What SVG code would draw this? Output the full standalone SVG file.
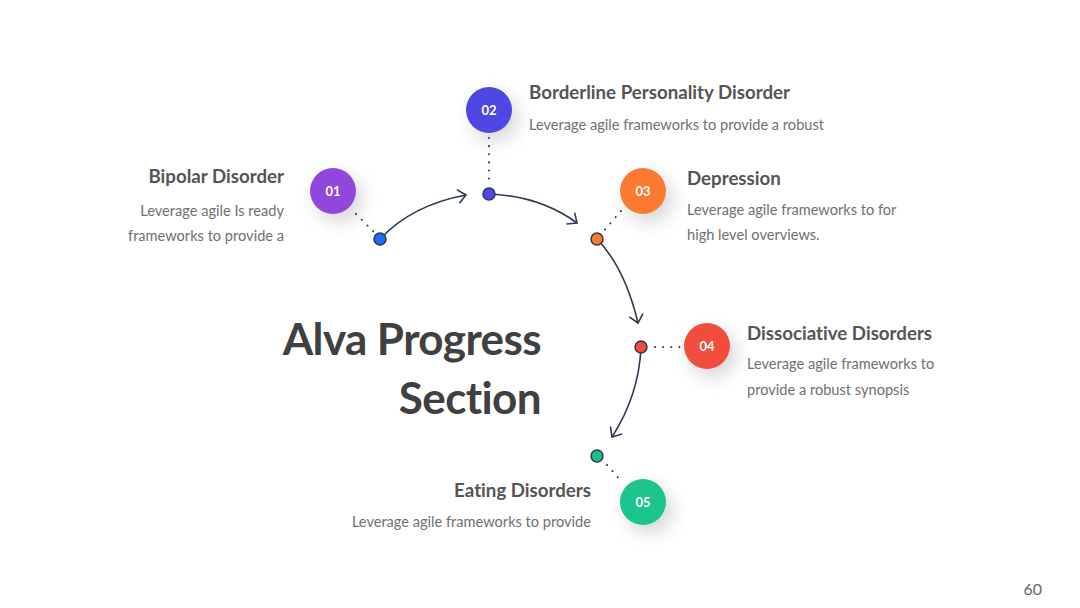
<svg xmlns="http://www.w3.org/2000/svg" width="1080" height="608" viewBox="0 0 1080 608">
<style>
text{font-variant-ligatures:none}
.h{font-family:Lato,"Open Sans","Liberation Sans",sans-serif;font-weight:700;font-size:18.7px;fill:#555555}
.s{font-family:Lato,"Open Sans","Liberation Sans",sans-serif;font-size:14.6px;fill:#707070}
.n{font-family:Lato,"Open Sans","Liberation Sans",sans-serif;font-weight:700;font-size:13px;fill:#ffffff}
.t{font-family:Lato,"Open Sans","Liberation Sans",sans-serif;font-weight:700;font-size:44px;fill:#404040;letter-spacing:-0.6px}
.dot{stroke:#2d3a55;stroke-width:1.5}
.dl{stroke:#2d3a55;stroke-width:2;stroke-linecap:round;stroke-dasharray:0.1 8;fill:none}
.cv{stroke:#2d3a55;stroke-width:1.6;fill:none}
</style>
<defs>
<filter id="sh" x="-80%" y="-80%" width="260%" height="260%">
<feDropShadow dx="6" dy="8" stdDeviation="9" flood-color="#000" flood-opacity="0.16"/>
</filter>
<marker id="ar" markerWidth="16" markerHeight="16" refX="10" refY="8" orient="auto" markerUnits="userSpaceOnUse">
<path d="M2,1 L10,8 L2,15" fill="none" stroke="#2d3a55" stroke-width="1.6"/>
</marker>
</defs>
<rect width="1080" height="608" fill="#ffffff"/>

<g id="connectors">
<path class="dl" d="M356,214 L376,234"/>
<path class="dl" d="M489,138 L489,186"/>
<path class="dl" d="M621,211 L602,233"/>
<path class="dl" d="M655,347 L680,347"/>
<path class="dl" d="M607,465 L622,482"/>
<path class="cv" d="M380,239 Q412,205 466,195" marker-end="url(#ar)"/>
<path class="cv" d="M489,194 Q540,196 577,223" marker-end="url(#ar)"/>
<path class="cv" d="M597,239 Q625,268 638,323" marker-end="url(#ar)"/>
<path class="cv" d="M641,347 Q639,395 612,437" marker-end="url(#ar)"/>
</g>

<text class="t" x="541" y="355" text-anchor="end">Alva Progress</text>
<text class="t" x="541" y="414" text-anchor="end">Section</text>

<g id="node1">
<circle cx="333" cy="191" r="23" fill="#9146dc" filter="url(#sh)"/>
<text class="n" x="333" y="195.5" text-anchor="middle">01</text>
<circle class="dot" cx="380" cy="239" r="6" fill="#1a6ef5"/>
<text class="h" x="284" y="183" text-anchor="end">Bipolar Disorder</text>
<text class="s" x="284" y="216" text-anchor="end">Leverage agile Is ready</text>
<text class="s" x="284" y="241" text-anchor="end">frameworks to provide a</text>
</g>

<g id="node2">
<circle cx="489" cy="110" r="23" fill="#5046e4" filter="url(#sh)"/>
<text class="n" x="489" y="114.5" text-anchor="middle">02</text>
<circle class="dot" cx="489" cy="194" r="6" fill="#5046e4"/>
<text class="h" x="529" y="99">Borderline Personality Disorder</text>
<text class="s" x="529" y="130">Leverage agile frameworks to provide a robust</text>
</g>

<g id="node3">
<circle cx="643" cy="191" r="23" fill="#fb7a30" filter="url(#sh)"/>
<text class="n" x="643" y="195.5" text-anchor="middle">03</text>
<circle class="dot" cx="597" cy="239" r="6" fill="#f47b30"/>
<text class="h" x="687" y="185">Depression</text>
<text class="s" x="687" y="215">Leverage agile frameworks to for</text>
<text class="s" x="687" y="240">high level overviews.</text>
</g>

<g id="node4">
<circle cx="707" cy="346" r="23" fill="#f04e3e" filter="url(#sh)"/>
<text class="n" x="707" y="350.5" text-anchor="middle">04</text>
<circle class="dot" cx="641" cy="347" r="6" fill="#ef4b3a"/>
<text class="h" x="747" y="340">Dissociative Disorders</text>
<text class="s" x="747" y="369">Leverage agile frameworks to</text>
<text class="s" x="747" y="395">provide a robust synopsis</text>
</g>

<g id="node5">
<circle cx="643" cy="502" r="23" fill="#1bc58d" filter="url(#sh)"/>
<text class="n" x="643" y="506.5" text-anchor="middle">05</text>
<circle class="dot" cx="597" cy="456" r="6" fill="#1bbf8a"/>
<text class="h" x="591" y="497" text-anchor="end">Eating Disorders</text>
<text class="s" x="591" y="527" text-anchor="end">Leverage agile frameworks to provide</text>
</g>

<text x="1042" y="595" text-anchor="end" style="font-family:Lato,'Liberation Sans',sans-serif;font-size:16px;fill:#666666">60</text>
</svg>
